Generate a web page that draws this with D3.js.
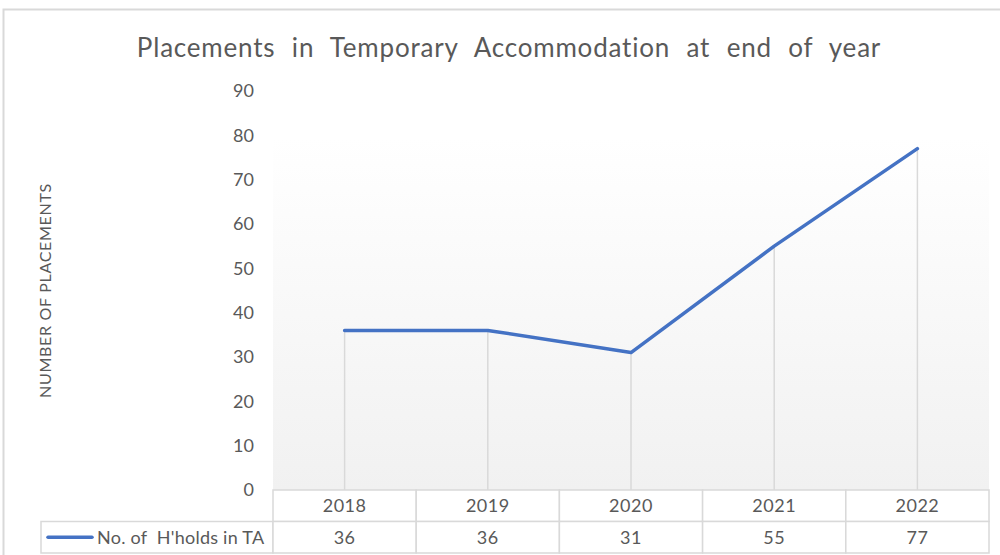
<!DOCTYPE html>
<html>
<head>
<meta charset="utf-8">
<script src="https://cdn.jsdelivr.net/npm/d3@7"></script>
<style>
  body { margin: 0; background: #fff; }
  svg text { font-family: Lato, "Open Sans", sans-serif; fill: #595959; }
</style>
</head>
<body>
<svg id="chart"></svg>
<script>
// data
const years = ["2018", "2019", "2020", "2021", "2022"];
const placements = [36, 36, 31, 55, 77];
const seriesName = "No. of  H'holds in TA";
const yTicks = [0, 10, 20, 30, 40, 50, 60, 70, 80, 90];

const width = 1000, height = 555;
const margin = {top: 91, right: 11, bottom: 65, left: 273};
const plotW = width - margin.left - margin.right;
const plotH = height - margin.top - margin.bottom;
const rowH = 31.5;
const legendLeft = 41;

const svg = d3.select("#chart").attr("width", width).attr("height", height);

// outer chart border
svg.append("rect")
  .attr("x", 3.5).attr("y", 9.5)
  .attr("width", 1010).attr("height", 560)
  .attr("fill", "none").attr("stroke", "#d9d9d9").attr("stroke-width", 2);

const defs = svg.append("defs");
const grad = defs.append("linearGradient").attr("id", "bg").attr("x1", 0).attr("y1", 0).attr("x2", 0).attr("y2", 1);
grad.append("stop").attr("offset", "0%").attr("stop-color", "#ffffff");
grad.append("stop").attr("offset", "100%").attr("stop-color", "#f1f1f1");

const chart = svg.append("g").attr("transform", `translate(${margin.left},${margin.top})`);

const x = d3.scaleBand().domain(years).range([0, plotW]);
const y = d3.scaleLinear().domain([0, 90]).range([plotH, 0]);

// plot area background
chart.append("rect")
  .attr("x", 0).attr("y", 47)
  .attr("width", plotW).attr("height", plotH - 47)
  .attr("fill", "url(#bg)");

// y axis labels
const yAxis = d3.axisLeft(y).tickValues(yTicks).tickSize(0).tickPadding(19);
chart.append("g")
  .call(yAxis)
  .call(g => g.select(".domain").remove())
  .selectAll("text")
  .style("font-size", "18px")
  .style("font-family", "Lato, sans-serif")
  .attr("fill", "#595959");

// drop lines
chart.selectAll(".drop")
  .data(placements)
  .join("line")
  .attr("x1", (d, i) => x(years[i]) + x.bandwidth() / 2)
  .attr("x2", (d, i) => x(years[i]) + x.bandwidth() / 2)
  .attr("y1", d => y(d))
  .attr("y2", plotH)
  .attr("stroke", "#d9d9d9")
  .attr("stroke-width", 1.5);

// series line
const line = d3.line()
  .x((d, i) => x(years[i]) + x.bandwidth() / 2)
  .y(d => y(d));

chart.append("path")
  .datum(placements)
  .attr("d", line)
  .attr("fill", "none")
  .attr("stroke", "#4472c4")
  .attr("stroke-width", 3.5)
  .attr("stroke-linejoin", "round")
  .attr("stroke-linecap", "round");

// data table
const table = chart.append("g").attr("transform", `translate(0,${plotH})`);
const tableStroke = "#d9d9d9";

table.selectAll(".hdr")
  .data(years)
  .join("rect")
  .attr("x", d => x(d)).attr("y", 0)
  .attr("width", x.bandwidth()).attr("height", rowH)
  .attr("fill", "#fff").attr("stroke", tableStroke).attr("stroke-width", 1.5);

table.selectAll(".hdrText")
  .data(years)
  .join("text")
  .attr("x", d => x(d) + x.bandwidth() / 2)
  .attr("y", rowH / 2 + 6.5)
  .attr("text-anchor", "middle")
  .style("font-size", "18px")
  .style("letter-spacing", "0.5px")
  .text(d => d);

// legend cell
table.append("rect")
  .attr("x", legendLeft - margin.left).attr("y", rowH)
  .attr("width", margin.left - legendLeft).attr("height", rowH)
  .attr("fill", "#fff").attr("stroke", tableStroke).attr("stroke-width", 1.5);

table.append("line")
  .attr("x1", legendLeft - margin.left + 7).attr("x2", legendLeft - margin.left + 51)
  .attr("y1", rowH * 1.5).attr("y2", rowH * 1.5)
  .attr("stroke", "#4472c4").attr("stroke-width", 3.5).attr("stroke-linecap", "round");

table.append("text")
  .attr("x", legendLeft - margin.left + 56)
  .attr("y", rowH * 1.5 + 6.5)
  .style("font-size", "18px")
  .style("letter-spacing", "0.25px")
  .style("white-space", "pre")
  .attr("xml:space", "preserve")
  .text(seriesName);

table.selectAll(".val")
  .data(placements)
  .join("rect")
  .attr("x", (d, i) => x(years[i])).attr("y", rowH)
  .attr("width", x.bandwidth()).attr("height", rowH)
  .attr("fill", "#fff").attr("stroke", tableStroke).attr("stroke-width", 1.5);

table.selectAll(".valText")
  .data(placements)
  .join("text")
  .attr("x", (d, i) => x(years[i]) + x.bandwidth() / 2)
  .attr("y", rowH * 1.5 + 6.5)
  .attr("text-anchor", "middle")
  .style("font-size", "18px")
  .style("letter-spacing", "0.5px")
  .text(d => d);

// title
svg.append("text")
  .attr("x", 509).attr("y", 57)
  .attr("text-anchor", "middle")
  .style("font-size", "26px")
  .style("letter-spacing", "0.8px")
  .style("word-spacing", "9px")
  .text("Placements in Temporary Accommodation at end of year");

// y axis title
svg.append("text")
  .attr("transform", `translate(51,${margin.top + plotH / 2}) rotate(-90)`)
  .attr("text-anchor", "middle")
  .style("font-size", "16px")
  .style("letter-spacing", "0.7px")
  .text("NUMBER OF PLACEMENTS");
</script>
</body>
</html>
